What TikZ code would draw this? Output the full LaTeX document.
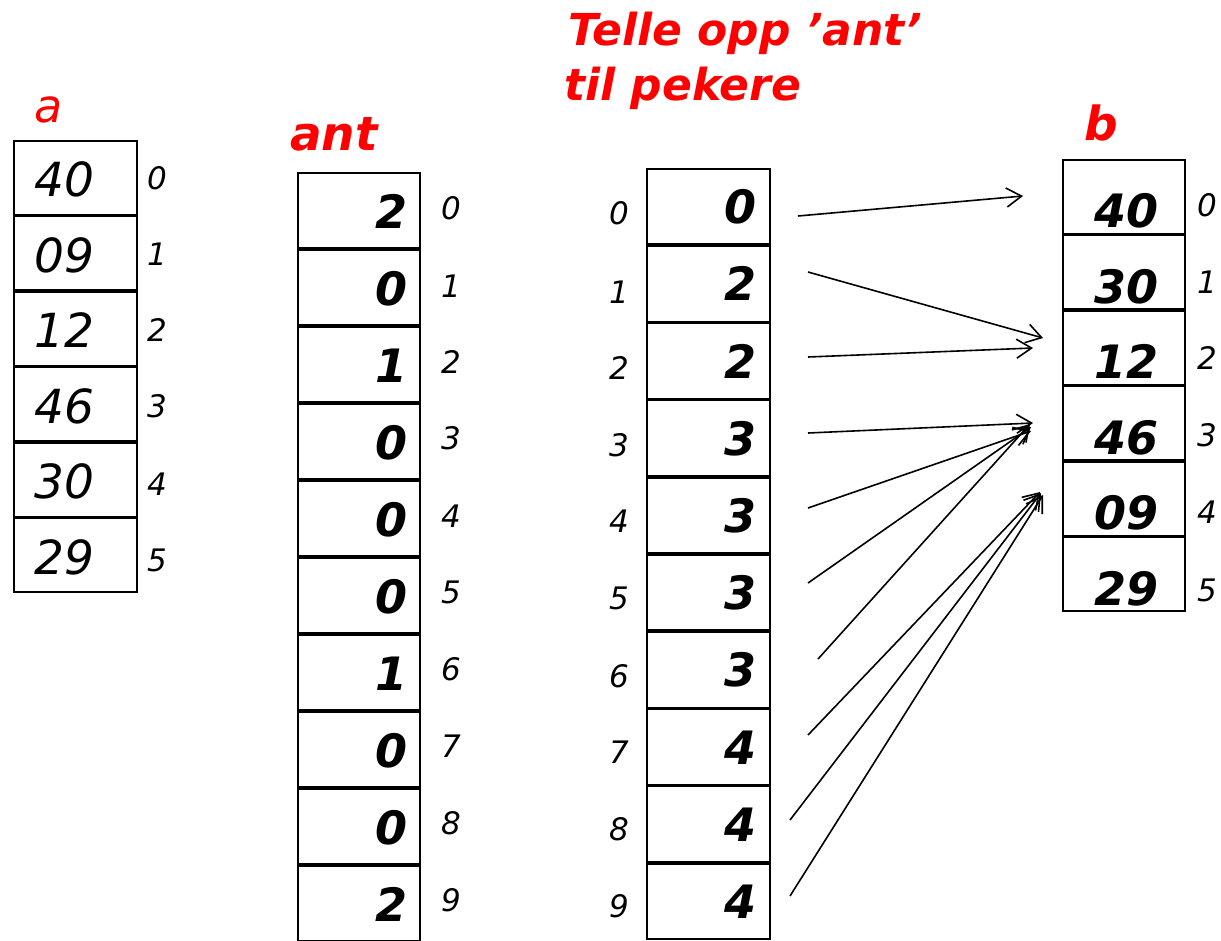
\documentclass[tikz,border=0pt]{standalone}
\usepackage{fontspec}
\setmainfont{DejaVu Sans}
\usetikzlibrary{arrows.meta}
\begin{document}
\begin{tikzpicture}[x=1pt,y=-1pt,
  cellbox/.style={draw, line width=2.2pt, minimum width=123pt, minimum height=#1, inner sep=0pt},
  valA/.style={font=\fontsize{47}{50}\selectfont\itshape, anchor=base west, inner sep=0pt},
  valB/.style={font=\fontsize{46}{50}\selectfont\bfseries\itshape, anchor=base east, inner sep=0pt},
  idx/.style={font=\fontsize{31}{34}\selectfont\itshape, inner sep=0pt},
  ttl/.style={font=\fontsize{44}{50}\selectfont\bfseries\itshape, text=red, anchor=base west, inner sep=0pt},
  lbl/.style={font=\fontsize{46}{50}\selectfont\itshape, text=red, anchor=base west, inner sep=0pt},
  ptr/.style={line width=1.6pt, -{Straight Barb[length=15pt,width=19pt]}}]
\useasboundingbox (0,0) rectangle (1221,940);
\clip (0,0) rectangle (1221,940);

% titles
\node[lbl] (la) at (34,122) {a};
\node[ttl, font=\fontsize{47}{50}\selectfont\bfseries\itshape] (lant) at (290,150) {ant};
\node[ttl] (t1) at (568,45) {Telle opp ’ant’};
\node[ttl] (t2) at (564,100) {til pekere};
\node[ttl, font=\fontsize{47}{50}\selectfont\bfseries\itshape] (lb) at (1084,140) {b};

% array a
\foreach \v [count=\i from 0] in {40,09,12,46,30,29} {
  \node[cellbox=74pt] (a\i) at (75.5,{140+75.5*(\i+0.5)}) {};
  \node[valA] (av\i) at (34,{140+75.5*(\i+0.5)+19}) {\v};
}
\foreach \y [count=\i from 0] in {178,254,330,406,484,560}
  \node[idx] (ai\i) at (157,\y) {\i};

% array ant
\foreach \v [count=\i from 0] in {2,0,1,0,0,0,1,0,0,2} {
  \node[cellbox=75.5pt, minimum width=122pt] (n\i) at (359,{172+77*(\i+0.5)}) {};
  \node[valB] (nv\i) at (408,{172+77*(\i+0.5)+18}) {\v};
}
\foreach \y [count=\i from 0] in {208,286,362,438,516,592,669,746,823,900}
  \node[idx] (ni\i) at (451,\y) {\i};

% array pointers
\foreach \v [count=\i from 0] in {0,2,2,3,3,3,3,4,4,4} {
  \node[cellbox=75.7pt] (c\i) at (708.5,{168+77.2*(\i+0.5)}) {};
  \node[valB] (cv\i) at (757,{168+77.2*(\i+0.5)+17}) {\v};
}
\foreach \y [count=\i from 0] in {213,292,368,445,521,598,676,752,829,906}
  \node[idx] (ci\i) at (619,\y) {\i};

% array b
\foreach \v [count=\i from 0] in {40,30,12,46,09,29} {
  \node[cellbox=74pt, minimum width=122pt] (b\i) at (1124,{159+75.5*(\i+0.5)}) {};
  \node[valB] (bv\i) at (1159,{159+75.5*(\i+1)-7}) {\v};
}
\foreach \y [count=\i from 0] in {205,282,358,435,512,590}
  \node[idx] (bi\i) at (1207,\y) {\i};

% pointer arrows
\coordinate (s0) at (798,216); \coordinate (e0) at (1023,196);
\coordinate (s1) at (808,272); \coordinate (e1) at (1043,338);
\coordinate (s2) at (808,357); \coordinate (e2) at (1033,348);
\coordinate (s3) at (808,433); \coordinate (e3) at (1033,423);
\coordinate (s4) at (808,508); \coordinate (e4) at (1031,431);
\coordinate (s5) at (808,583); \coordinate (e5) at (1031,427);
\coordinate (s6) at (818,659); \coordinate (e6) at (1030,424);
\coordinate (s7) at (808,735); \coordinate (e7) at (1040,492);
\coordinate (s8) at (790,820); \coordinate (e8) at (1041,493);
\coordinate (s9) at (790,896); \coordinate (e9) at (1043,495);
\foreach \k in {0,...,9}
  \draw[ptr] (s\k) -- (e\k);
\end{tikzpicture}
\end{document}
